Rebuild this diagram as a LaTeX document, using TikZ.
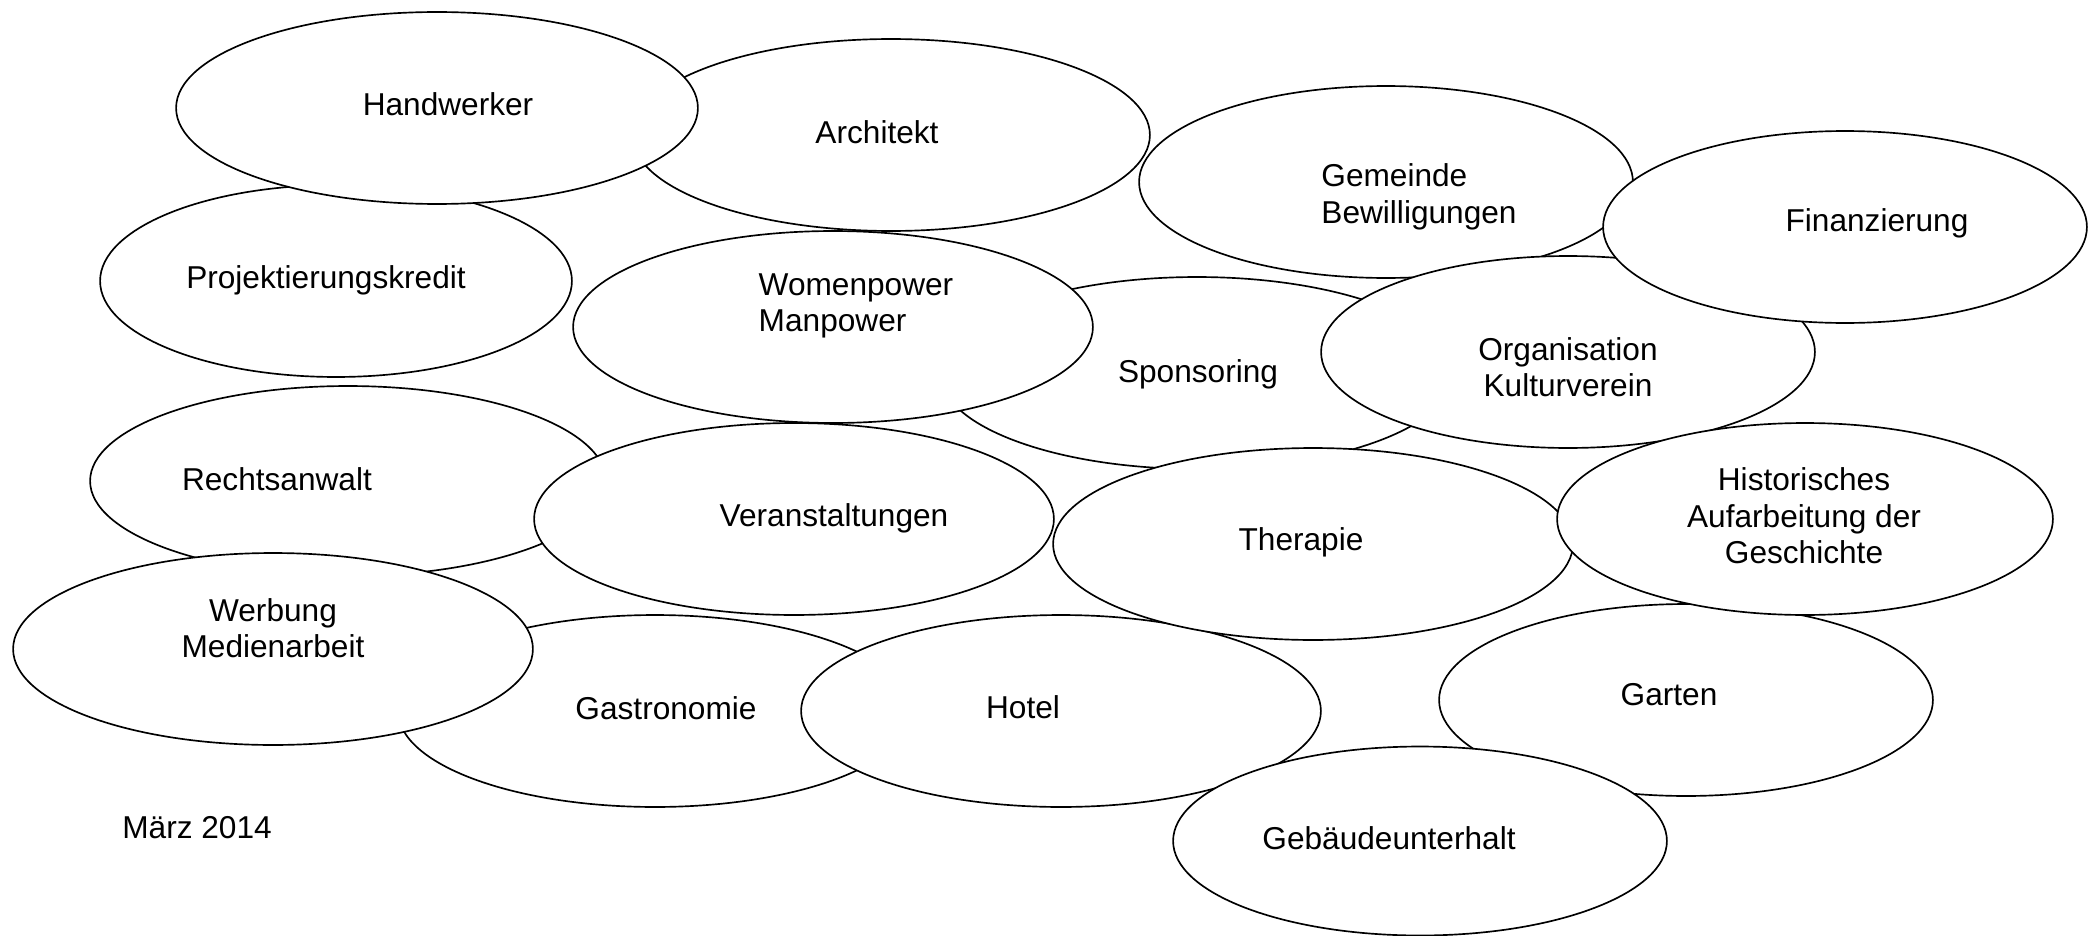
\documentclass[tikz,border=0pt]{standalone}
\usepackage{fontspec}
\setmainfont{Liberation Sans}
\usetikzlibrary{shapes.geometric}
\begin{document}
\begin{tikzpicture}[x=0.02cm,y=-0.02cm,
  bubble/.style={ellipse,draw=black,fill=white,line width=0.95pt,inner sep=0pt,
    minimum width=#1*0.04cm},
  bubble/.default=258,
  lbl/.style={font=\fontsize{18}{20.8}\selectfont,inner sep=0pt,align=center},
  lbll/.style={font=\fontsize{18}{20.8}\selectfont,inner sep=0pt,align=left}]
\useasboundingbox[fill=white] (0,0) rectangle (2089,936);
\tikzset{every node/.append style={minimum height=3.84cm}}
% row 1
\node[bubble=259] (architekt) at (891,135) {};
\node[bubble=236] (projekt) at (336,281) {};
\node[bubble=261] (handwerker) at (437,108) {};
\node[bubble=247] (gemeinde) at (1386,182) {};
\node[bubble=257] (sponsoring) at (1197,373) {};
\node[bubble=260] (women) at (833,327) {};
\node[bubble=247] (organisation) at (1568,352) {};
\node[bubble=242] (finanz) at (1845,227) {};
% row 2
\node[bubble=258,minimum height=3.80cm] (recht) at (348,481) {};
\node[bubble=260] (veranst) at (794,519) {};
\node[bubble=257] (gastro) at (655,711) {};
\node[bubble=260] (werbung) at (273,649) {};
\node[bubble=260] (hotel) at (1061,711) {};
\node[bubble=260] (therapie) at (1313,544) {};
\node[bubble=247] (garten) at (1686,700) {};
\node[bubble=248] (histor) at (1805,519) {};
\node[bubble=247,minimum height=3.78cm] (gebaeude) at (1420,841) {};
\tikzset{every node/.append style={minimum height=0pt}}
% labels
\node[lbl] (t-handwerker) at (448,104) {Handwerker};
\node[lbl] (t-architekt) at (877,132) {Architekt};
\node[lbll] (t-gemeinde) at (1419,197) {Gemeinde\\Bewilligungen};
\node[lbl] (t-finanz) at (1877,223) {Finanzierung};
\node[lbl] (t-projekt) at (326,280) {Projektierungskredit};
\node[lbll] (t-women) at (856,306) {Womenpower\\Manpower};
\node[lbl] (t-sponsoring) at (1198,374) {Sponsoring};
\node[lbl] (t-organisation) at (1568,367) {Organisation\\Kulturverein};
\node[lbl] (t-recht) at (277,479) {Rechtsanwalt};
\node[lbl] (t-veranst) at (834,518) {Veranstaltungen};
\node[lbl] (t-therapie) at (1301,542) {Therapie};
\node[lbl] (t-histor) at (1804,516) {Historisches\\Aufarbeitung der\\Geschichte};
\node[lbl] (t-werbung) at (273,628) {Werbung\\Medienarbeit};
\node[lbl] (t-gastro) at (666,708) {Gastronomie};
\node[lbl] (t-hotel) at (1023,707) {Hotel};
\node[lbl] (t-garten) at (1669,695) {Garten};
\node[lbl] (t-gebaeude) at (1389,838) {Gebäudeunterhalt};
\node[lbll,anchor=west] (t-maerz) at (122,828) {März 2014};
\end{tikzpicture}
\end{document}
